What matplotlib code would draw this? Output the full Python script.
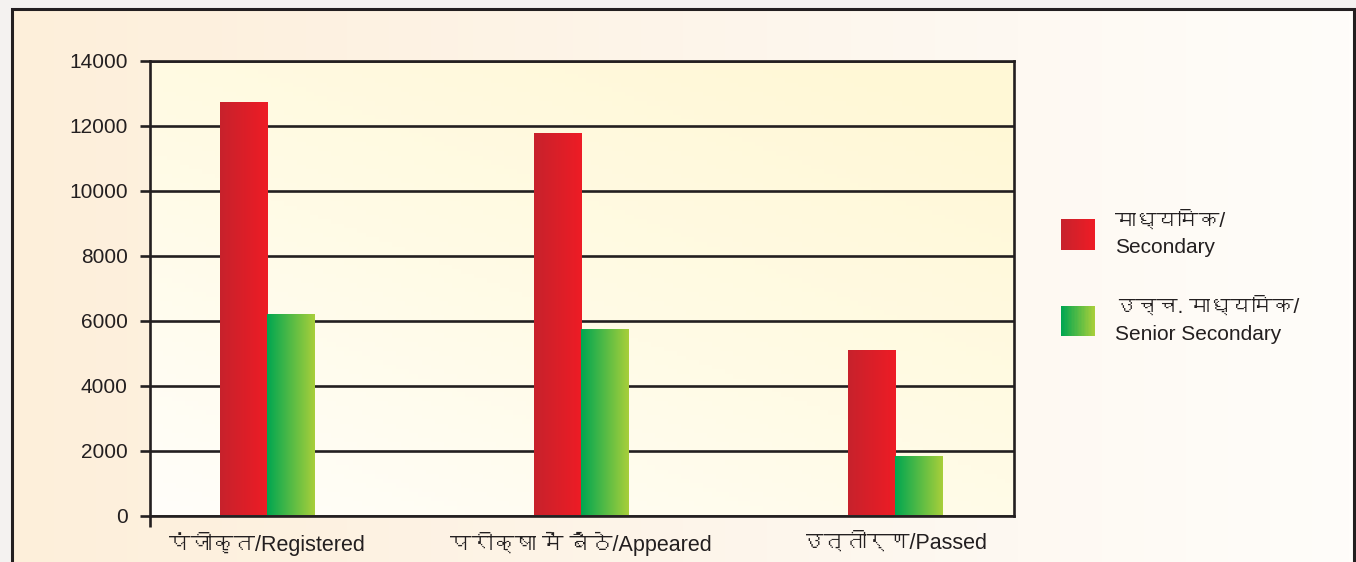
import matplotlib
matplotlib.use("Agg")
import matplotlib.pyplot as plt
import numpy as np
from matplotlib import font_manager
from matplotlib.ft2font import FT2Font
from matplotlib.patches import Rectangle
from matplotlib.legend_handler import HandlerBase
from matplotlib.colors import LinearSegmentedColormap

categories = ["पंजीकृत/Registered", "परीक्षा में बैठे/Appeared", "उत्तीर्ण/Passed"]
series_names = ["माध्यमिक/\nSecondary", "उच्च. माध्यमिक/\nSenior Secondary"]
secondary = [12750, 11780, 5100]
senior_secondary = [6200, 5730, 1840]
yticks = [0, 2000, 4000, 6000, 8000, 10000, 12000, 14000]

red_colors = ["#c7222c", "#ee1c25"]
green_colors = ["#00a651", "#a8cf3a"]


# find some installed font that has devanagari glyphs, if any
def find_devanagari():
    for f in font_manager.fontManager.ttflist:
        try:
            cmap = FT2Font(f.fname).get_charmap()
        except Exception:
            continue
        if 0x0915 in cmap and 0x093F in cmap:
            return f.name
    return None


families = ["Liberation Sans"]
deva = find_devanagari()
if deva:
    families.append(deva)
families.append("DejaVu Sans")
plt.rcParams["font.family"] = families

ink = "#231f20"

fig = plt.figure(figsize=(13.56, 5.62), dpi=100)
fig.patch.set_facecolor("#f4f2f0")

# background panel with the frame
bg = fig.add_axes([0, 0, 1, 1], zorder=-10)
bg.set_xlim(0, 1)
bg.set_ylim(0, 1)
bg.axis("off")
grad = np.linspace(0, 1, 256).reshape(1, -1)
bg_cmap = LinearSegmentedColormap.from_list("bg", ["#fdefda", "#fdf5ea", "#fffdfa"])
frame = Rectangle((12 / 1356, -0.05), (1354 - 12) / 1356, 1.05 - 9 / 562,
                  facecolor="none", edgecolor=ink, linewidth=2.2)
bg.add_patch(frame)
im = bg.imshow(grad, extent=[12 / 1356, 1354 / 1356, -0.05, 1 - 9 / 562],
               aspect="auto", cmap=bg_cmap, zorder=0)
im.set_clip_path(frame)

ax = fig.add_axes([150 / 1356, (562 - 515.5) / 562, (1014 - 150) / 1356, (515.5 - 61) / 562])
ax.set_facecolor("none")

# plot area gradient (yellowish top right, whiter bottom left)
yy, xx = np.mgrid[0:1:100j, 0:1:200j]
plot_grad = np.clip(0.55 * xx + 0.75 * yy, 0, 1.2) / 1.2
plot_cmap = LinearSegmentedColormap.from_list("pl", ["#fffefa", "#fffbe6", "#fff8d6"])

x = np.arange(len(categories))
w = 0.15
xmin, xmax = -0.373, 2.38
ax.set_xlim(xmin, xmax)
ax.set_ylim(0, 14000)
ax.imshow(plot_grad, extent=[xmin, xmax, 0, 14000], origin="lower", aspect="auto",
          cmap=plot_cmap, zorder=0)

bars1 = ax.bar(x - w / 2, secondary, w, color="none", zorder=3)
bars2 = ax.bar(x + w / 2, senior_secondary, w, color="none", zorder=3)


def fill_gradient(bars, colors):
    cm = LinearSegmentedColormap.from_list("g", colors)
    for b in bars:
        x0, y0 = b.get_x(), b.get_y()
        img = ax.imshow(grad, extent=[x0, x0 + b.get_width(), y0, y0 + b.get_height()],
                        aspect="auto", cmap=cm, zorder=3)
        img.set_clip_path(b)


fill_gradient(bars1, red_colors)
fill_gradient(bars2, green_colors)
ax.set_xlim(xmin, xmax)
ax.set_ylim(0, 14000)

ax.set_yticks(yticks)
ax.set_yticklabels([str(v) for v in yticks])
ax.yaxis.grid(True, color=ink, linewidth=1.9, zorder=1)
ax.set_axisbelow(True)
ax.tick_params(axis="y", direction="out", length=7, width=1.9, color=ink,
               labelsize=15, labelcolor=ink, pad=9)

ax.set_xticks(x)
ax.set_xticklabels(categories)
ax.tick_params(axis="x", length=0, labelsize=15.5, labelcolor=ink, pad=12)
ax.set_xticks([xmin], minor=True)
ax.tick_params(axis="x", which="minor", direction="out", length=8, width=1.9, color=ink)

for s in ax.spines.values():
    s.set_color(ink)
    s.set_linewidth(1.9)


class GradientHandler(HandlerBase):
    def __init__(self, colors):
        super().__init__()
        self.colors = colors

    def create_artists(self, legend, orig_handle, xdescent, ydescent, width, height,
                       fontsize, trans):
        cm = LinearSegmentedColormap.from_list("h", self.colors)
        n = 24
        arts = []
        for i in range(n):
            r = Rectangle((-xdescent + width * i / n, -ydescent), width / n * 1.05, height,
                          facecolor=cm(i / (n - 1)), edgecolor="none", transform=trans)
            arts.append(r)
        return arts


h1 = Rectangle((0, 0), 1, 1)
h2 = Rectangle((0, 0), 1, 1)
leg = fig.legend([h1, h2], series_names, loc="center left",
                 bbox_to_anchor=(1061 / 1356, (562 - 277) / 562),
                 frameon=False, fontsize=15, borderpad=0, borderaxespad=0,
                 handlelength=1.63, handleheight=1.9, handletextpad=0.96,
                 labelspacing=1.9,
                 handler_map={h1: GradientHandler(red_colors), h2: GradientHandler(green_colors)})
for t in leg.get_texts():
    t.set_color(ink)
    t.set_linespacing(1.5)

fig.savefig("out.png", dpi=100, facecolor=fig.get_facecolor())
